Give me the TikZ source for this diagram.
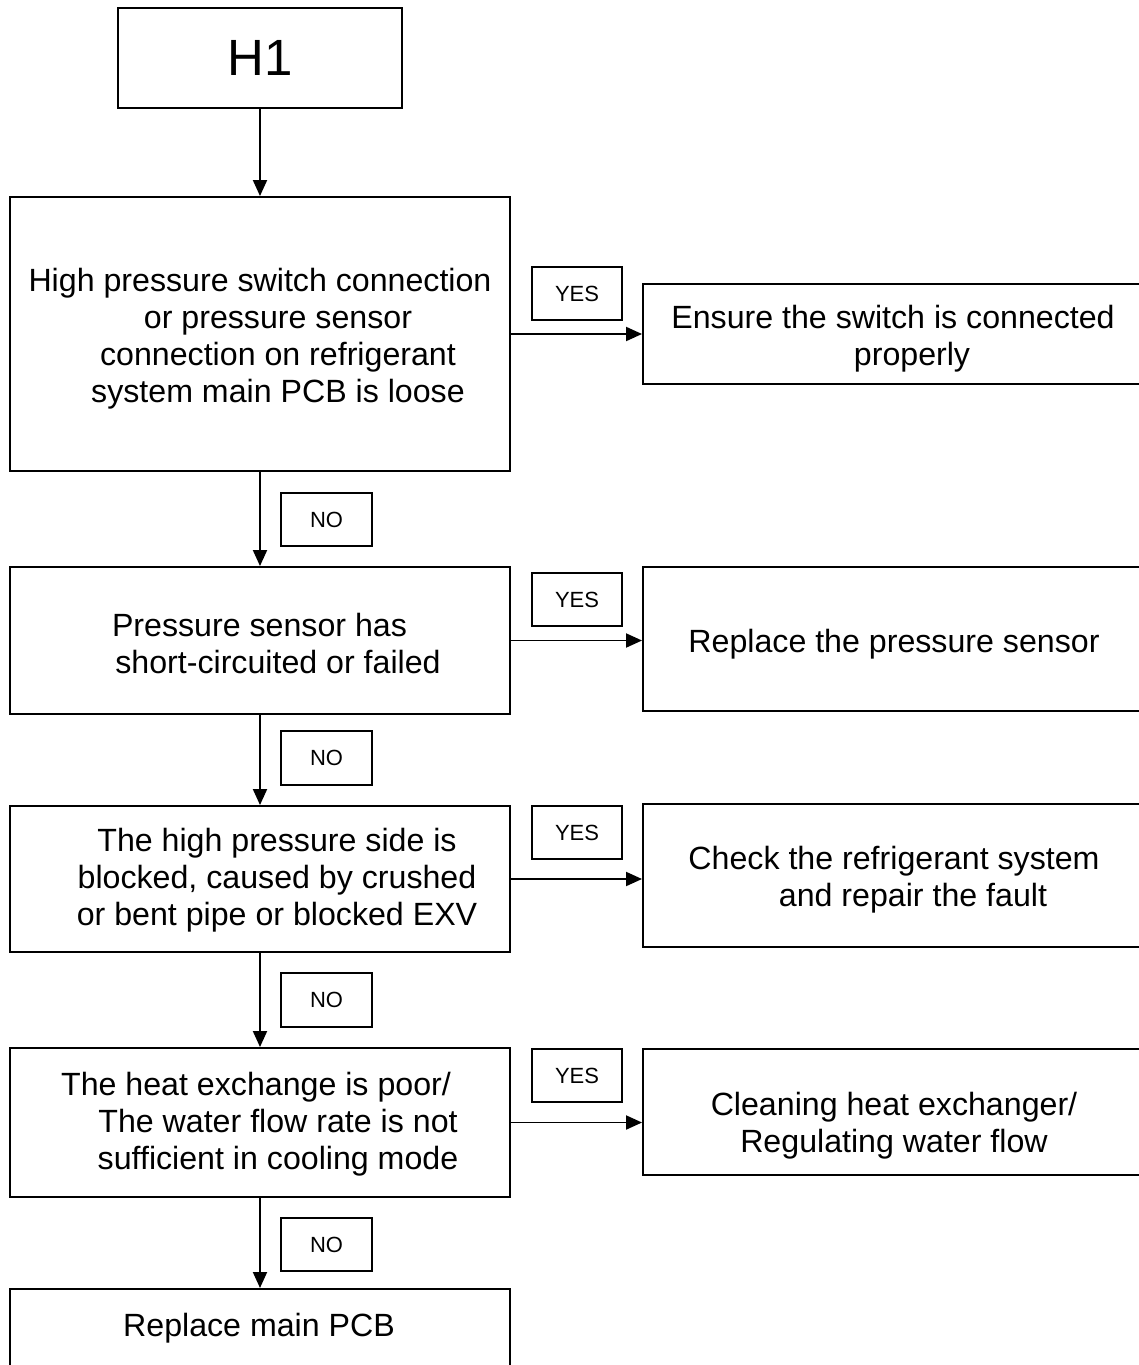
\documentclass[tikz,border=0pt]{standalone}
\usepackage{fontspec}
\setmainfont{Liberation Sans}
\usetikzlibrary{arrows.meta}
\begin{document}
\begin{tikzpicture}[
  box/.style={draw=black, line width=1.1pt, rectangle, inner sep=0pt},
  tag/.style={draw=black, line width=1pt, rectangle, inner sep=0pt,
              minimum width=1.81cm, minimum height=1.07cm,
              font=\fontsize{12.5}{14}\selectfont},
  txt/.style={align=center, inner sep=0pt, font=\fontsize{18.3}{21.1}\selectfont},
  flow/.style={line width=1.1pt, -{Triangle[length=0.32cm,width=0.28cm]}}
]
\useasboundingbox (0,0) rectangle (22.78,-27.3);
\clip (0,0) rectangle (22.78,-27.3);

% start
\node[box, minimum width=5.68cm, minimum height=2.0cm,
      font=\fontsize{29}{30}\selectfont] (h1) at (5.2,-1.16) {H1};

% left column: checks
\node[box, minimum width=10.0cm, minimum height=5.48cm] (c1) at (5.2,-6.68) {};
\node[box, minimum width=10.0cm, minimum height=2.94cm] (c2) at (5.2,-12.81) {};
\node[box, minimum width=10.0cm, minimum height=2.92cm] (c3) at (5.2,-17.58) {};
\node[box, minimum width=10.0cm, minimum height=2.98cm] (c4) at (5.2,-22.45) {};
\node[box, minimum width=10.0cm, minimum height=1.6cm, anchor=north] (c5) at (5.2,-25.76) {};

% right column: remedies (open to the right edge)
\node[box, minimum width=10.04cm, minimum height=2.0cm] (r1) at (17.88,-6.68) {};
\node[box, minimum width=10.04cm, minimum height=2.88cm] (r2) at (17.88,-12.78) {};
\node[box, minimum width=10.04cm, minimum height=2.86cm] (r3) at (17.88,-17.51) {};
\node[box, minimum width=10.04cm, minimum height=2.52cm] (r4) at (17.88,-22.24) {};

% texts of the checks
\node[txt] (t1) at (5.56,-6.77) {High pressure switch connection\hspace*{0.72cm}\\
  or pressure sensor\\ connection on refrigerant\\ system main PCB is loose};
\node[txt] (t2) at (5.56,-12.87) {Pressure sensor has\hspace*{0.74cm}\\ short-circuited or failed};
\node[txt] (t3) at (5.54,-17.61) {The high pressure side is\\ blocked, caused by crushed\\ or bent pipe or blocked EXV};
\node[txt] (t4) at (5.56,-22.49) {The heat exchange is poor/\hspace*{0.88cm}\\
  The water flow rate is not\hspace*{0.68cm}\\ sufficient in cooling mode};
\node[txt] (t5) at (5.18,-26.57) {Replace main PCB};

% texts of the remedies
\node[txt] (s1) at (18.24,-6.77) {Ensure the switch is connected\hspace*{0.76cm}\\ properly};
\node[txt] (s2) at (17.88,-12.88) {Replace the pressure sensor};
\node[txt] (s3) at (18.26,-17.59) {Check the refrigerant system\hspace*{0.76cm}\\ and repair the fault};
\node[txt] (s4) at (17.88,-22.51) {Cleaning heat exchanger/\\ Regulating water flow};

% answer tags
\node[tag] (y1) at (11.54,-5.87) {YES};
\node[tag] (y2) at (11.54,-11.99) {YES};
\node[tag] (y3) at (11.54,-16.65) {YES};
\node[tag] (y4) at (11.54,-21.51) {YES};
\node[tag] (n1) at (6.53,-10.39) {NO};
\node[tag] (n2) at (6.53,-15.16) {NO};
\node[tag] (n3) at (6.53,-20.00) {NO};
\node[tag] (n4) at (6.53,-24.89) {NO};

% connectors
\draw[flow] (h1.south) -- (c1.north);
\draw[flow] (c1.south) -- (c2.north);
\draw[flow] (c2.south) -- (c3.north);
\draw[flow] (c3.south) -- (c4.north);
\draw[flow] (c4.south) -- (c5.north);
\draw[flow] (c1.east) -- (c1.east -| r1.west);
\draw[flow] (c2.east) -- (c2.east -| r2.west);
\draw[flow] (c3.east) -- (c3.east -| r3.west);
\draw[flow] (c4.east) -- (c4.east -| r4.west);
\end{tikzpicture}
\end{document}
